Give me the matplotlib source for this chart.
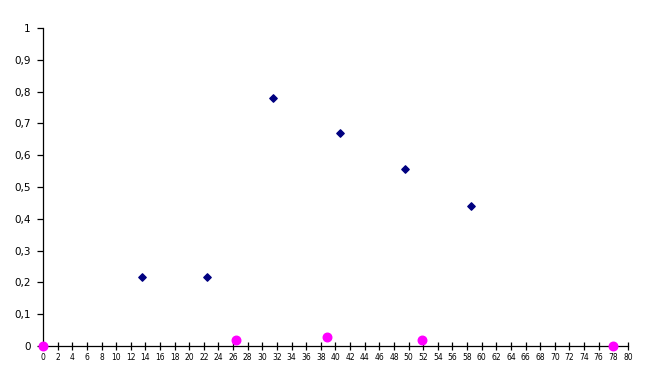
import matplotlib
matplotlib.use("Agg")
import matplotlib.pyplot as plt
from matplotlib.ticker import FuncFormatter

# series
blue_x = [13.5, 22.4, 31.4, 40.6, 49.5, 58.5]
blue_y = [0.217, 0.217, 0.78, 0.67, 0.556, 0.44]

pink_x = [0, 26.4, 38.8, 51.8, 77.9]
pink_y = [0, 0.019, 0.028, 0.019, 0]

fig = plt.figure(figsize=(6.52, 3.84), dpi=100)
ax = fig.add_axes([0.066, 0.099, 0.897, 0.828])

ax.scatter(pink_x, pink_y, marker="o", s=38, color="#ff00ff", zorder=3, clip_on=False)
ax.scatter(blue_x, blue_y, marker="D", s=14, color="#000080", zorder=3, clip_on=False)

ax.set_xlim(0, 80)
ax.set_ylim(0, 1)
ax.set_xticks(range(0, 81, 2))
ax.set_yticks([i / 10 for i in range(11)])
ax.yaxis.set_major_formatter(FuncFormatter(lambda v, p: "0" if v == 0 else ("1" if v == 1 else f"{v:.1f}".replace(".", ","))))

for s in ["top", "right"]:
    ax.spines[s].set_visible(False)
ax.spines["left"].set_linewidth(0.9)
ax.spines["bottom"].set_linewidth(0.9)

ax.tick_params(axis="x", direction="inout", length=6, width=0.9, labelsize=5.5, pad=2)
ax.tick_params(axis="y", direction="out", length=4, width=0.9, labelsize=7.5, pad=5)

fig.savefig("out.png", dpi=100)
